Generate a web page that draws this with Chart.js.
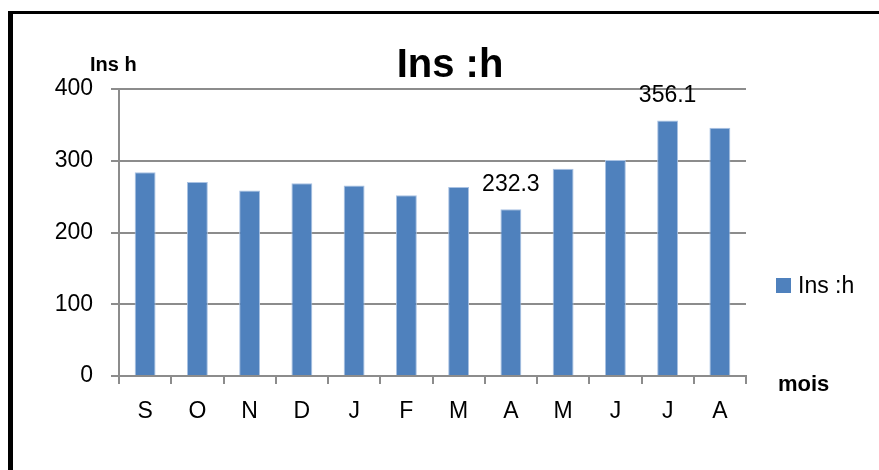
<!DOCTYPE html>
<html lang="fr">
<head>
<meta charset="UTF-8">
<title>Ins :h</title>
<script src="https://cdn.jsdelivr.net/npm/chart.js"></script>
<style>
  html, body { margin: 0; padding: 0; overflow: hidden; background: #fff; }
  #frame { position: absolute; left: 8px; top: 11px; width: 1000px; height: 600px;
           border-left: 5px solid #000; border-top: 3px solid #000; }
  #chart { position: absolute; left: 0; top: 0; }
</style>
</head>
<body>
<div id="frame"></div>
<canvas id="chart" width="900" height="470"></canvas>
<script>
const months = ['S', 'O', 'N', 'D', 'J', 'F', 'M', 'A', 'M', 'J', 'J', 'A'];
const insolation = [284, 270.5, 258.6, 268.7, 265.4, 251.8, 263.5, 232.3, 288.8, 301, 356.1, 346];
const labelledBars = [7, 10];   // only these bars carry a value label
const seriesName = 'Ins :h';

const font = 'Liberation Sans, Arial, sans-serif';
const gray = '#8c8c8c';

// title, axis titles, value labels and legend
const extras = {
  id: 'extras',
  afterDatasetsDraw(chart) {
    const ctx = chart.ctx;
    const bars = chart.getDatasetMeta(0).data;
    ctx.save();
    ctx.fillStyle = '#000';
    ctx.textAlign = 'center';
    ctx.textBaseline = 'alphabetic';

    // the title is centred on the whole (wider) frame, not on the plot
    ctx.font = 'bold 40px ' + font;
    ctx.fillText(seriesName, 450, 77);

    ctx.font = '23px ' + font;
    labelledBars.forEach(i => {
      ctx.fillText(String(insolation[i]), bars[i].x, bars[i].y - 18);
    });

    ctx.textAlign = 'left';
    ctx.font = 'bold 20px ' + font;
    ctx.fillText('Ins h', 90, 71);
    ctx.font = 'bold 22px ' + font;
    ctx.fillText('mois', 778, 391);

    // legend
    ctx.fillStyle = '#4f81bd';
    ctx.fillRect(776, 278, 15, 15);
    ctx.fillStyle = '#000';
    ctx.font = '23px ' + font;
    ctx.fillText(seriesName, 798, 293);
    ctx.restore();
  }
};

new Chart(document.getElementById('chart'), {
  type: 'bar',
  data: {
    labels: months,
    datasets: [{
      label: seriesName,
      data: insolation,
      backgroundColor: '#4f81bd',
      borderColor: '#a9c2e3',
      borderWidth: 1,
      barPercentage: 0.4,
      categoryPercentage: 1
    }]
  },
  options: {
    responsive: false,
    animation: false,
    layout: { padding: { left: 0, right: 154, top: 89, bottom: 0 } },
    plugins: {
      legend: { display: false },
      tooltip: { enabled: false },
      title: { display: false }
    },
    scales: {
      x: {
        grid: { offset: true, drawOnChartArea: false, drawTicks: true, tickLength: 8, color: gray, lineWidth: 2 },
        border: { display: true, color: gray, width: 2 },
        ticks: { color: '#000', font: { family: font, size: 23 }, padding: 14, maxRotation: 0 },
        afterFit(scale) { scale.height = 94; }
      },
      y: {
        min: 0,
        max: 400,
        ticks: { stepSize: 100, color: '#000', font: { family: font, size: 23 }, padding: 18 },
        grid: { color: gray, lineWidth: 2, tickLength: 8 },
        border: { display: true, color: gray, width: 2 },
        afterFit(scale) { scale.width = 119; }
      }
    }
  },
  plugins: [extras]
});
</script>
</body>
</html>
